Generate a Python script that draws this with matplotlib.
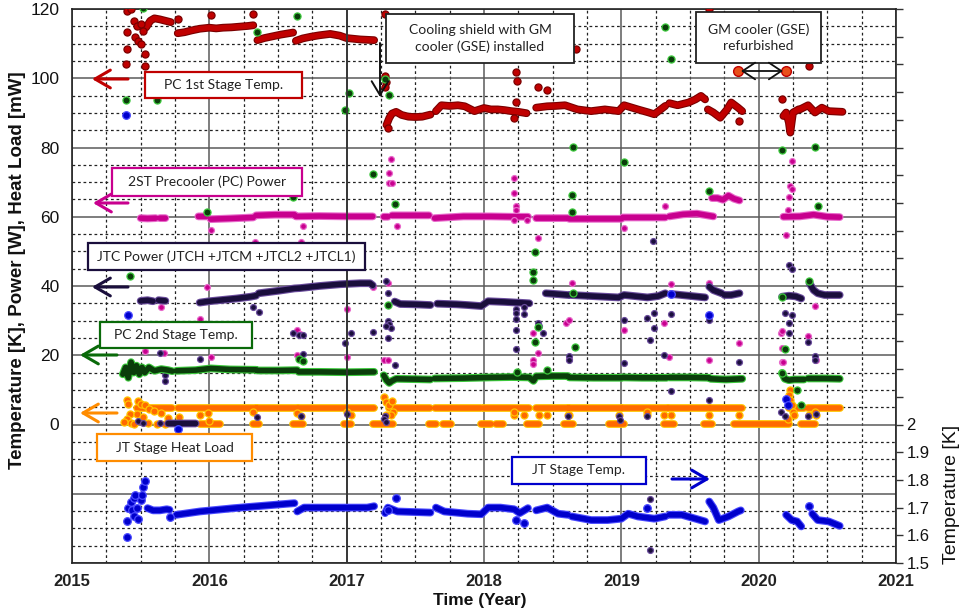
import numpy as np
import matplotlib
matplotlib.use("Agg")
import matplotlib.pyplot as plt
from matplotlib.ticker import MultipleLocator, FixedLocator
from matplotlib.patches import Rectangle, FancyArrowPatch

nan = np.nan

# ---------------- data ----------------
years = [2015, 2016, 2017, 2018, 2019, 2020, 2021]
left_ticks = [0, 20, 40, 60, 80, 100, 120]
right_ticks = [1.5, 1.6, 1.7, 1.8, 1.9, 2.0]
right_labels = ["1.5", "1.6", "1.7", "1.8", "1.9", "2"]

# PC 1st stage temperature [K]
pc1_t = [2015.54, 2015.57, 2015.60, 2015.64, 2015.68, 2015.72, nan,
         2015.77, 2015.82, 2015.87, 2015.93, 2016.00, 2016.05, 2016.10, 2016.16, 2016.22, 2016.28, 2016.32, nan,
         2016.35, 2016.40, 2016.46, 2016.52, 2016.58, 2016.61, nan,
         2016.63, 2016.68, 2016.74, 2016.80, 2016.88, 2016.95, 2017.00, 2017.10, 2017.20, nan,
         2017.29, 2017.31, 2017.33, 2017.36, 2017.40, 2017.45, 2017.50, 2017.55, 2017.61, nan,
         2017.65, 2017.69, 2017.75, 2017.81, 2017.86, 2017.93, 2018.00, 2018.05, 2018.10, 2018.15, 2018.20, 2018.25, 2018.31, nan,
         2018.38, 2018.46, 2018.52, 2018.59, 2018.68, 2018.78, 2018.88, 2018.98, 2019.02, 2019.12, 2019.20, 2019.24, 2019.32, nan,
         2019.35, 2019.41, 2019.49, 2019.54, 2019.58, 2019.61, nan,
         2019.63, 2019.67, 2019.72, 2019.77, 2019.80, 2019.85, 2019.88, nan,
         2020.18, 2020.20, 2020.22, 2020.23, 2020.25, 2020.29, 2020.30, 2020.36, 2020.41, 2020.46, 2020.51, 2020.61]
pc1_v = [114.7, 116.6, 117.3, 117.0, 116.6, 116.2, nan,
         113.0, 113.3, 113.8, 114.3, 114.6, 114.4, 114.6, 114.7, 114.9, 115.1, 115.3, nan,
         111.0, 111.6, 112.1, 112.6, 113.0, 113.2, nan,
         110.8, 111.5, 112.0, 112.4, 112.8, 112.3, 111.6, 111.2, 111.0, nan,
         86.5, 88.5, 89.8, 90.3, 89.4, 88.9, 88.8, 88.9, 89.5, nan,
         90.5, 92.2, 92.0, 92.2, 91.9, 90.5, 91.4, 91.0, 91.0, 90.8, 90.5, 90.3, 89.9, nan,
         91.5, 91.9, 92.0, 92.2, 91.0, 90.5, 91.0, 90.5, 92.2, 91.0, 90.1, 89.6, 92.0, nan,
         92.8, 92.2, 93.0, 93.9, 94.9, 93.9, nan,
         91.0, 90.1, 88.6, 91.0, 93.0, 91.5, 90.5, nan,
         89.1, 90.1, 87.2, 84.3, 90.1, 91.0, 91.0, 92.2, 90.1, 91.5, 90.5, 90.3]
pc1_out_t = [2015.40, 2015.43, 2015.40, 2015.40, 2015.39, 2015.45, 2015.47, 2015.50, 2015.52, 2015.46,
             2015.48, 2015.50, 2015.53, 2015.53, 2015.77, 2016.01, 2016.32, 2017.28, 2017.28, 2017.29,
             2017.30, 2017.28, 2018.23, 2018.24, 2018.23, 2018.22, 2018.39, 2018.46, 2018.67, 2019.64,
             2019.86, 2020.17, 2020.37]
pc1_out_v = [119.5, 120.0, 113.3, 108.4, 104.1, 116.6, 115.2, 115.7, 113.7, 111.8,
             110.8, 109.9, 107.0, 103.6, 117.0, 118.3, 118.5, 118.6, 100.6, 98.9,
             85.5, 97.4, 101.7, 99.3, 93.0, 88.4, 97.5, 96.5, 108.4, 120.0,
             87.6, 94.0, 103.5]

# 2ST precooler (PC) power [W]
pcp_t = [2015.50, 2015.55, 2015.61, nan, 2015.64, 2015.68, nan, 2015.92, 2015.98, nan,
         2016.01, 2016.15, 2016.32, nan, 2016.34, 2016.48, 2016.62, nan, 2016.63, 2016.80, 2017.00, 2017.19, nan,
         2017.27, 2017.30, nan, 2017.33, 2017.45, 2017.60, nan, 2017.64, 2017.85, 2018.05, 2018.20, 2018.32, nan,
         2018.38, 2018.50, 2018.61, nan, 2018.62, 2018.80, 2019.00, nan, 2019.01, 2019.15, 2019.32, nan,
         2019.35, 2019.45, 2019.55, 2019.67, nan, 2019.66, 2019.70, 2019.74, 2019.78, 2019.82, 2019.86, nan,
         2020.18, 2020.30, 2020.40, 2020.50, 2020.59]
pcp_v = [59.6, 59.5, 59.6, nan, 59.6, 59.6, nan, 60.1, 60.1, nan,
         59.3, 59.5, 59.8, nan, 60.4, 60.6, 60.6, nan, 60.1, 60.2, 60.1, 60.1, nan,
         60.0, 60.0, nan, 60.4, 60.4, 60.4, nan, 59.6, 60.1, 60.1, 60.0, 60.0, nan,
         59.6, 59.6, 59.6, nan, 59.4, 59.4, 59.4, nan, 59.8, 59.8, 59.8, nan,
         60.1, 60.7, 60.9, 60.1, nan, 65.4, 65.4, 64.9, 66.1, 65.2, 64.7, nan,
         60.0, 60.1, 60.6, 60.0, 59.9]
pcp_out_t = [2017.32, 2017.31, 2017.31, 2017.33, 2017.37, 2016.01, 2016.68, 2016.33, 2016.67, 2018.22,
             2018.22, 2018.23, 2018.23, 2018.22, 2018.31, 2018.39, 2019.02, 2019.32, 2020.20, 2020.24,
             2020.23, 2020.24, 2020.22, 2020.21,
             2015.98, 2015.65, 2015.93, 2015.53, 2015.67, 2016.01, 2016.64, 2016.66, 2016.64, 2017.00,
             2017.00, 2017.30, 2017.27, 2017.30, 2017.19,
             2018.64, 2018.60, 2018.62, 2018.36, 2018.39, 2018.36, 2018.36, 2018.62, 2019.02, 2019.31,
             2019.35, 2019.36, 2019.64, 2019.64, 2019.86, 2020.16, 2020.17, 2020.17, 2020.18, 2020.17,
             2020.36, 2020.41, 2020.42]
pcp_out_v = [76.7, 72.5, 69.8, 69.8, 57.2, 56.2, 57.4, 52.6, 52.6, 71.2,
             66.9, 63.2, 62.0, 59.0, 59.0, 53.9, 56.8, 63.0, 54.8, 76.0,
             69.0, 68.0, 65.6, 62.0,
             39.8, 33.9, 30.6, 21.2, 20.7, 19.5, 27.2, 26.0, 20.0, 33.5,
             19.5, 41.0, 18.6, 18.6, 39.6,
             40.8, 29.4, 30.2, 26.5, 20.6, 18.5, 17.6, 18.9, 27.3, 29.2,
             19.4, 40.6, 18.6, 40.9, 23.6, 26.4, 27.0, 18.0, 18.0, 22.0,
             25.5, 34.2, 18.6]

# JTC power (JTCH + JTCM + JTCL2 + JTCL1) [mW]
jtc_t = [2015.70, 2015.80, 2015.90, nan,
         2015.50, 2015.55, 2015.59, nan, 2015.63, 2015.68, nan,
         2015.93, 2016.00, 2016.10, 2016.20, 2016.30, 2016.34, nan, 2016.36, 2016.50, 2016.62, 2016.66, 2016.80,
         2016.95, 2017.10, 2017.17, 2017.19, nan,
         2017.35, 2017.39, 2017.50, 2017.61, nan, 2017.66, 2017.80, 2017.88, 2017.98, 2018.03, 2018.15, 2018.29, 2018.33, nan,
         2018.45, 2018.55, 2018.61, nan, 2018.63, 2018.78, 2018.98, 2019.02, 2019.19, 2019.27, 2019.32, nan,
         2019.36, 2019.51, 2019.61, nan, 2019.64, 2019.67, 2019.73, nan, 2019.75, 2019.80, 2019.86, nan,
         2020.17, 2020.22, 2020.27, 2020.31, nan, 2020.37, 2020.40, 2020.43, 2020.48, 2020.59]
jtc_v = [0.3, 0.3, 0.3, nan,
         35.7, 35.9, 35.6, nan, 35.9, 35.7, nan,
         35.2, 35.6, 36.0, 36.4, 36.9, 37.2, nan, 37.9, 38.6, 39.3, 39.4, 40.0,
         40.5, 40.8, 40.8, 40.2, nan,
         35.5, 34.8, 34.7, 34.5, nan, 34.9, 34.7, 34.5, 34.2, 35.6, 35.4, 35.1, 35.0, nan,
         37.9, 37.6, 37.4, nan, 37.4, 37.1, 36.7, 37.4, 36.7, 37.1, 37.9, nan,
         37.7, 37.1, 36.7, nan, 39.8, 38.8, 37.9, nan, 37.4, 37.4, 37.9, nan,
         36.9, 37.2, 37.0, 36.4, nan, 40.8, 38.8, 37.9, 37.4, 37.4]
jtc_out_t = [2016.32, 2016.36, 2016.61, 2016.65, 2016.68, 2016.68, 2015.93, 2015.64, 2015.68, 2015.68,
             2016.99, 2017.03, 2017.19, 2017.29, 2017.30, 2017.30, 2017.31, 2017.32, 2017.29, 2017.30, 2017.35,
             2018.23, 2018.23, 2018.23, 2018.23, 2018.23, 2018.29, 2018.29, 2018.39, 2018.40, 2018.43,
             2018.62, 2018.62, 2019.02, 2019.02, 2019.19, 2019.24, 2019.24, 2019.21, 2019.31, 2019.36,
             2019.64, 2019.86, 2020.19, 2020.24, 2020.22, 2020.22, 2020.36, 2020.41, 2020.41, 2018.36,
             2019.23, 2019.21, 2019.21, 2020.22, 2020.24,
             2015.48, 2015.52, 2016.35, 2016.67, 2017.00, 2017.28, 2018.61, 2018.98, 2018.99, 2019.19,
             2019.64, 2019.36, 2020.16, 2020.19, 2020.36, 2020.42, 2017.27, 2017.29, 2015.64]
jtc_out_v = [34.0, 32.6, 26.5, 25.8, 25.8, 20.5, 18.8, 20.6, 14.2, 12.5,
             23.6, 26.3, 26.8, 41.3, 38.0, 29.9, 29.0, 28.0, 28.4, 25.0, 17.1,
             33.5, 32.1, 30.4, 27.3, 21.7, 34.0, 32.0, 29.4, 28.4, 26.3,
             19.7, 18.6, 30.3, 17.7, 30.7, 32.2, 28.0, 24.3, 20.0, 31.9,
             30.2, 18.1, 32.2, 31.6, 29.2, 26.5, 23.9, 19.7, 18.6, 12.8,
             52.9, -21.5, -36.2, 46.0, 44.8,
             1.0, 0.5, 2.1, 2.5, 3.0, 2.5, 2.5, 2.5, 1.2, 2.5,
             7.0, 9.8, 3.6, 2.5, 2.5, 3.0, 1.5, 0.8, 0.5]

# PC 2nd stage temperature [K]
pc2_t = [2015.37, 2015.39, 2015.41, 2015.43, 2015.45, 2015.47, 2015.49, 2015.51, 2015.53, 2015.56,
         2015.60, 2015.65, 2015.70, 2015.73, nan,
         2015.76, 2015.90, 2016.01, 2016.15, 2016.34, nan, 2016.35, 2016.50, 2016.64, nan,
         2016.65, 2016.80, 2017.00, 2017.20, nan,
         2017.27, 2017.29, 2017.31, 2017.33, 2017.36, 2017.50, 2017.61, nan,
         2017.64, 2017.85, 2018.05, 2018.20, 2018.33, 2018.36, 2018.38, 2018.50, 2018.61, nan,
         2018.62, 2018.80, 2019.00, nan, 2019.01, 2019.15, 2019.33, nan, 2019.35, 2019.50, 2019.64, nan,
         2019.65, 2019.76, 2019.88, nan,
         2020.17, 2020.19, 2020.22, 2020.26, 2020.33, nan, 2020.36, 2020.48, 2020.59]
pc2_v = [14.5, 16.5, 13.5, 18.0, 15.0, 17.0, 14.5, 16.5, 15.0, 16.5,
         15.5, 16.0, 15.7, 15.4, nan,
         15.5, 15.7, 16.2, 15.9, 15.8, nan, 15.6, 15.6, 15.7, nan,
         15.2, 15.2, 15.1, 15.2, nan,
         14.2, 12.8, 12.0, 12.6, 13.2, 13.1, 13.0, nan,
         13.3, 13.4, 13.6, 13.7, 13.6, 12.6, 13.9, 14.0, 14.0, nan,
         13.6, 13.5, 13.5, nan, 13.6, 13.5, 13.5, nan, 13.6, 13.6, 13.5, nan,
         13.2, 13.0, 13.2, nan,
         14.9, 13.2, 12.8, 13.0, 13.0, nan, 13.3, 13.3, 13.2]
pc2_out_t = [2015.52, 2015.39, 2015.62, 2016.35, 2016.64, 2016.61, 2015.98, 2017.02, 2016.99, 2017.28,
             2017.31, 2017.19, 2017.35, 2018.65, 2018.64, 2018.64, 2019.02, 2019.32, 2019.36, 2020.17,
             2020.41, 2019.64, 2020.43, 2015.42, 2018.37, 2018.36, 2018.36, 2018.39, 2018.37, 2018.66,
             2018.65, 2017.30, 2018.46, 2018.24, 2020.17, 2020.19, 2020.17, 2020.28, 2020.31, 2020.37,
             2016.65, 2016.68]
pc2_out_v = [120.3, 93.7, 93.6, 113.3, 118.0, 65.6, 61.4, 95.7, 90.8, 99.7,
             95.1, 72.4, 63.8, 80.1, 66.2, 61.5, 75.8, 114.7, 105.7, 79.4,
             80.1, 67.3, 63.2, 43.0, 49.8, 44.0, 41.7, 28.2, 23.9, 22.4,
             38.0, 34.4, 15.7, 15.2, 36.9, 21.9, 14.9, 9.9, 5.5, 41.3,
             18.8, 18.3]

# JT stage heat load [mW]: periods at the ~4.9 mW level and at ~0 mW
hl_on_start = [2015.47, 2015.77, 2016.35, 2016.65, 2017.31, 2017.64, 2018.00, 2018.38, 2018.62, 2019.01,
               2019.35, 2019.65, 2020.22, 2020.36]
hl_on_end = [2015.73, 2016.34, 2016.64, 2017.20, 2017.61, 2017.98, 2018.33, 2018.61, 2019.00, 2019.33,
             2019.64, 2019.88, 2020.33, 2020.59]
hl_on_level = 4.9
hl_off_start = [2015.93, 2016.32, 2016.61, 2016.98, 2017.19, 2017.60, 2017.70, 2017.98, 2018.09, 2018.31,
                2018.58, 2018.91, 2019.31, 2019.60, 2019.82, 2020.31]
hl_off_end = [2016.08, 2016.36, 2016.68, 2017.03, 2017.34, 2017.65, 2017.76, 2018.05, 2018.14, 2018.40,
              2018.65, 2019.02, 2019.38, 2019.66, 2020.22, 2020.41]
hl_off_level = 0.2
hl_out_t = [2015.40, 2015.41, 2015.42, 2015.40, 2015.43, 2015.48, 2015.50, 2015.53, 2015.56, 2015.47,
            2015.52, 2015.60, 2015.65, 2015.70, 2015.68, 2015.45, 2015.38, 2015.55, 2015.62,
            2015.78, 2015.93, 2015.99, 2016.00, 2016.32, 2016.64, 2016.67, 2017.00, 2017.03, 2017.27,
            2017.29, 2017.31, 2017.33, 2017.34, 2017.32, 2017.29,
            2018.22, 2018.22, 2018.29, 2018.40, 2018.46, 2018.61, 2018.62, 2018.98, 2019.19, 2019.19,
            2019.31, 2019.36, 2019.64, 2019.86,
            2020.23, 2020.22, 2020.23, 2020.24, 2020.25, 2020.26, 2020.21, 2020.37, 2020.41, 2020.42]
hl_out_v = [7.0, 5.8, 3.1, 1.7, 0.5, 6.8, 5.8, 5.7, 4.5, 3.1,
            2.2, 4.0, 3.3, 2.0, 0.2, 0.2, 0.6, 0.3, 0.2,
            2.1, 2.6, 3.2, 1.0, 3.6, 3.2, 2.4, 3.6, 2.6, 7.9,
            6.5, 5.5, 6.8, 3.6, 2.6, 2.6,
            2.6, 3.6, 2.6, 2.6, 2.6, 2.6, 2.6, 2.6, 2.6, 3.6,
            2.6, 2.6, 2.6, 2.6,
            9.9, 8.5, 7.0, 5.5, 3.6, 2.6, 1.5, 2.6, 3.6, 2.6]

# JT stage temperature [K] (right axis)
jt_t = [2015.55, 2015.59, 2015.64, 2015.69, 2015.71, nan,
        2015.76, 2015.93, 2016.18, 2016.35, 2016.62, nan,
        2016.64, 2016.69, 2016.91, 2017.15, 2017.20, nan,
        2017.28, 2017.30, 2017.37, 2017.61, nan,
        2017.65, 2017.71, 2017.88, 2017.98, 2018.03, 2018.12, 2018.22, 2018.26, 2018.32, nan,
        2018.38, 2018.46, 2018.54, 2018.61, nan,
        2018.64, 2018.78, 2018.90, 2019.00, 2019.05, 2019.12, 2019.24, 2019.32, nan,
        2019.35, 2019.44, 2019.54, 2019.61, nan,
        2019.64, 2019.67, 2019.71, 2019.78, 2019.85, 2019.87, nan,
        2020.20, 2020.24, 2020.28, 2020.31, nan,
        2020.39, 2020.43, 2020.51, 2020.59]
jt_v = [1.698, 1.690, 1.690, 1.694, 1.692, nan,
        1.674, 1.686, 1.698, 1.705, 1.716, nan,
        1.686, 1.700, 1.700, 1.700, 1.705, nan,
        1.680, 1.700, 1.686, 1.682, nan,
        1.700, 1.686, 1.678, 1.676, 1.700, 1.700, 1.694, 1.680, 1.698, nan,
        1.690, 1.700, 1.678, 1.674, nan,
        1.668, 1.655, 1.655, 1.660, 1.678, 1.668, 1.660, 1.668, nan,
        1.674, 1.674, 1.660, 1.650, nan,
        1.722, 1.700, 1.655, 1.668, 1.686, 1.690, nan,
        1.674, 1.655, 1.650, 1.632, nan,
        1.678, 1.655, 1.650, 1.634]
jt_out_t = [2015.40, 2015.40, 2015.41, 2015.43, 2015.45, 2015.46, 2015.44, 2015.45, 2015.47, 2015.48,
            2015.50, 2015.51, 2015.52, 2015.53, 2015.71, 2017.36, 2017.30, 2018.23, 2018.29, 2019.19,
            2020.37, 2015.41, 2015.39, 2015.77, 2019.36, 2019.64, 2020.20, 2020.21]
jt_out_v = [1.595, 1.650, 1.698, 1.720, 1.734, 1.746, 1.690, 1.668, 1.698, 1.660,
            1.728, 1.746, 1.776, 1.795, 1.665, 1.734, 1.690, 1.655, 1.646, 1.698,
            1.705, 2.395, 3.116, 1.985, 2.471, 2.395, 2.093, 2.070]

# ---------------- styling ----------------
W, H = 965, 615
fig = plt.figure(figsize=(W / 100, H / 100), dpi=100)
L, R, T, B = 72, 896, 9, 563
ax = fig.add_axes([L / W, 1 - B / H, (R - L) / W, (B - T) / H])
ax.set_xlim(2015, 2021)
ax.set_ylim(-40, 120)

RED = ("#C00000", "#7A0000")
MAG = ("#C8008E", "#E86ACB")
NAVY = ("#1A0E3C", "#6A4C9C")
GREEN = ("#0B3D0B", "#3CC83C")
ORANGE = ("#FF6A00", "#FFC400")
BLUE = ("#0000CC", "#4A4AFF")


def band(a, t, v, col, z):
    a.plot(t, v, color=col[1], lw=5.6, solid_capstyle="round", solid_joinstyle="round", zorder=z)
    a.plot(t, v, color=col[0], lw=4.0, solid_capstyle="round", solid_joinstyle="round", zorder=z + 0.01)


def dots(a, t, v, col, z, s=26):
    a.scatter(t, v, s=s, c=col[0], edgecolors=col[1], linewidths=0.9, zorder=z)


def segs(starts, ends, level):
    t, v = [], []
    for s, e in zip(starts, ends):
        t += [s, e, nan]
        v += [level, level, nan]
    return t, v


band(ax, pc1_t, pc1_v, RED, 3)
dots(ax, pc1_out_t, pc1_out_v, RED, 3.05)
band(ax, pcp_t, pcp_v, MAG, 3.1)
dots(ax, pcp_out_t, pcp_out_v, MAG, 3.15, s=18)
hon_t, hon_v = segs(hl_on_start, hl_on_end, hl_on_level)
hoff_t, hoff_v = segs(hl_off_start, hl_off_end, hl_off_level)
band(ax, hon_t, hon_v, ORANGE, 3.2)
band(ax, hoff_t, hoff_v, ORANGE, 3.2)
dots(ax, hl_out_t, hl_out_v, ORANGE, 3.25)
band(ax, jtc_t, jtc_v, NAVY, 3.3)
dots(ax, jtc_out_t, jtc_out_v, NAVY, 3.35, s=18)
band(ax, pc2_t, pc2_v, GREEN, 3.4)
dots(ax, pc2_out_t, pc2_out_v, GREEN, 3.45)

# grid
ax.xaxis.set_major_locator(FixedLocator(years))
ax.xaxis.set_minor_locator(MultipleLocator(0.25))
ax.yaxis.set_major_locator(MultipleLocator(20))
ax.yaxis.set_minor_locator(MultipleLocator(5))
ax.grid(which="major", color="#5a5a5a", lw=1.1, ls="-", zorder=1)
ax.grid(which="minor", color="#222222", lw=0.9, ls=(0, (2.2, 2.2)), zorder=1)
ax.set_axisbelow(True)
ax.axvline(2017, color="#333333", lw=1.3, zorder=3.6)

ax.set_xticklabels([str(y) for y in years], fontfamily="Liberation Sans", fontweight="bold",
                   fontsize=12, color="#222222")
ax.set_yticks(left_ticks + [-20, -40])
ax.set_yticklabels([str(v) for v in left_ticks] + ["", ""], fontfamily="Liberation Sans",
                   fontsize=12.5, color="#111111")
ax.tick_params(axis="both", which="both", length=0)
ax.tick_params(axis="x", pad=8)
ax.tick_params(axis="y", pad=9)
for sp in ax.spines.values():
    sp.set_color("#222222")
    sp.set_linewidth(1.2)

ax2 = ax.twinx()
ax2.set_ylim(1.5, 3.5)
band(ax2, jt_t, jt_v, BLUE, 3.5)
dots(ax2, jt_out_t, jt_out_v, BLUE, 3.55, s=30)
rt = list(np.round(np.arange(1.5, 3.51, 0.1), 2))
ax2.set_yticks(rt)
ax2.set_yticklabels([right_labels[right_ticks.index(v)] if v in right_ticks else "" for v in rt],
                    fontfamily="Liberation Sans", fontsize=12, color="#111111")
ax2.tick_params(axis="y", length=5, width=1, pad=2.5, color="#333333")
for sp in ax2.spines.values():
    sp.set_visible(False)

# axis titles
fig.text(18 / W, 1 - 270 / H, "Temperature [K], Power [W], Heat Load [mW]", rotation=90,
         ha="center", va="center", fontfamily="Liberation Sans", fontweight="bold", fontsize=13.5,
         color="#111111")
fig.text(951 / W, 1 - 494 / H, "Temperature [K]", rotation=90, ha="center", va="center",
         fontfamily="Liberation Sans", fontsize=14, color="#111111")
fig.text(480 / W, 1 - 601 / H, "Time (Year)", ha="center", va="center",
         fontfamily="Liberation Sans", fontweight="bold", fontsize=12.5, color="#111111")


# annotation boxes (figure pixel layout)
def fx(x):
    return x / W


def fy(y):
    return 1 - y / H


def box(x0, y0, x1, y1, text, ec, lw=1.6):
    fig.add_artist(Rectangle((fx(x0), fy(y1)), fx(x1) - fx(x0), fy(y0) - fy(y1),
                             transform=fig.transFigure, facecolor="white", edgecolor=ec,
                             lw=lw, zorder=5))
    fig.text(fx((x0 + x1) / 2), fy((y0 + y1) / 2), text, ha="center", va="center",
             fontfamily="Lato", fontsize=10, color="#222222", zorder=6, linespacing=1.35)


def arrow(x0, y0, x1, y1, color, lw=2.2, style="->", hl=0.55, hw=0.32):
    fig.add_artist(FancyArrowPatch((fx(x0), fy(y0)), (fx(x1), fy(y1)), transform=fig.transFigure,
                                   arrowstyle=f"{style},head_length={hl},head_width={hw}",
                                   color=color, lw=lw, zorder=6, mutation_scale=20,
                                   shrinkA=0, shrinkB=0))


box(145, 72, 302, 98, "PC 1st Stage Temp.", RED[0])
box(112, 168, 302, 196, "2ST Precooler (PC) Power", MAG[0])
box(88, 243, 365, 270, "JTC Power (JTCH +JTCM +JTCL2 +JTCL1)", NAVY[0])
box(100, 322, 252, 348, "PC 2nd Stage Temp.", "#0A6A0A")
box(97, 434, 252, 461, "JT Stage Heat Load", "#FF8C00")
box(512, 457, 646, 484, "JT Stage Temp.", BLUE[0])
box(386, 14, 574, 63, "Cooling shield with GM\ncooler (GSE) installed", "#222222", lw=1.3)
box(696, 12, 821, 63, "GM cooler (GSE)\nrefurbished", "#222222", lw=1.3)

arrow(128, 79, 92, 79, RED[0])
arrow(128, 203, 93, 203, MAG[0])
arrow(128, 287, 92, 287, NAVY[0])
arrow(117, 355, 80, 355, "#0A6A0A")
arrow(117, 413, 80, 413, "#FF8C00")
arrow(672, 479, 710, 479, BLUE[0])
arrow(380, 43, 380, 97, "#111111", lw=1.4, hl=0.5, hw=0.3)
for xm in (738, 786):
    fig.add_artist(plt.Line2D([fx(xm)], [fy(71)], transform=fig.transFigure, marker="o",
                              markersize=7, markerfacecolor="#E8501A", markeredgecolor="#C00000",
                              zorder=6))
arrow(741, 71, 783, 71, "#111111", lw=1.3, style="<->", hl=0.45, hw=0.3)

fig.savefig("out.png", dpi=100)
